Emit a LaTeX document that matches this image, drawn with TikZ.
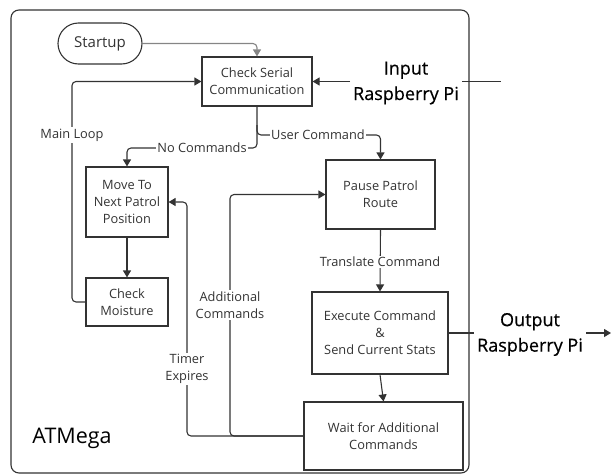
\documentclass[tikz,border=0pt]{standalone}
\usepackage{fontspec}
\setmainfont{Open Sans}
\newfontfamily\headfont[FakeBold=0.5]{Open Sans}
\usetikzlibrary{arrows.meta}
\definecolor{linec}{HTML}{333333}
\definecolor{txt}{HTML}{333333}
\definecolor{startc}{HTML}{858585}
\begin{document}
\begin{tikzpicture}[x=1pt,y=-1pt,
  stepbox/.style={draw=linec, line width=1.1pt, align=center, text=txt,
    font=\fontsize{12.8}{17}\selectfont, inner sep=0pt},
  lbl/.style={fill=white, text=txt, align=center, inner sep=1.5pt,
    font=\fontsize{12.8}{17}\selectfont},
  biglbl/.style={align=center, text=black, inner sep=0pt,
    font=\headfont\fontsize{18}{25.5}\selectfont},
  conn/.style={draw=linec, line width=1.1pt, rounded corners=4pt},
  arr/.style={conn, -{Triangle[length=7pt,width=8pt]}},
]
\useasboundingbox (0,0) rectangle (611,474);

% ATMega frame
\node[draw=linec, line width=1.1pt, rounded corners=8pt, minimum width=458pt,
  minimum height=463pt, inner sep=0pt] (atm) at (240,241.5) {};
\node[align=center, text=black, inner sep=0pt,
  font=\fontsize{21.5}{24}\selectfont] (atmlbl) at (72,438) {ATMega};

% process steps
\node[draw=linec, line width=1.1pt, rounded corners=20.5pt, minimum width=84pt,
  minimum height=41pt, inner sep=0pt, text=txt, font=\fontsize{15}{18}\selectfont]
  (start) at (100,43.5) {Startup};
\node[stepbox, minimum width=110pt, minimum height=49pt] (check) at (257,81.5)
  {Check Serial\\Communication};
\node[stepbox, minimum width=82pt, minimum height=70pt] (move) at (127,202)
  {Move To\\Next Patrol\\Position};
\node[stepbox, minimum width=82pt, minimum height=48pt] (moist) at (127,302)
  {Check\\Moisture};
\node[stepbox, minimum width=109pt, minimum height=69pt] (pause) at (380.5,194.5)
  {Pause Patrol\\Route};
\node[stepbox, minimum width=136pt, minimum height=82pt] (exec) at (380,333)
  {Execute Command\\\&\\Send Current Stats};
\node[stepbox, minimum width=159pt, minimum height=68pt] (wait) at (383.5,436)
  {Wait for Additional\\Commands};

% Raspberry Pi interfaces
\node[biglbl] (inlbl) at (406,83) {Input\\Raspberry Pi};
\node[biglbl] (outlbl) at (530,334.5) {Output\\Raspberry Pi};
\coordinate (inA) at (350,81.5);
\coordinate (inB) at (462,81.5);
\coordinate (inC) at (501,81.5);
\coordinate (outA) at (474,333);
\coordinate (outB) at (586,333);
\coordinate (outC) at (611,333);

% turning points
\coordinate (mlTurn) at (72,81.5);
\coordinate (ncTurn) at (127,148);
\coordinate (ucStart) at (257,125);
\coordinate (ucTurn) at (380.5,135);
\coordinate (teTurn) at (187,202);
\coordinate (acTurn) at (230,194.5);

% connectors
\draw[arr, draw=startc, -{Triangle[length=7pt,width=8pt]}, startc]
  (start.east) -| (check.north);
\draw[arr] (inA) -- (check.east);
\draw[conn] (inB) -- (inC);
\draw[arr] (moist.west) -| (mlTurn) -- (check.west);
\draw[arr] (check.south) |- (ncTurn) -- (move.north);
\draw[arr] (ucStart) |- (ucTurn) -- (pause.north);
\draw[arr] (move.south) -- (moist.north);
\draw[arr] (pause.south) -- (exec.north);
\draw[arr] (exec.south) -- (wait.north);
\draw[conn] (exec.east) -- (outA);
\draw[arr] (outB) -- (outC);
\draw[arr] (wait.west) -| (teTurn) -- (move.east);
\draw[arr] (wait.west) -| (acTurn) -- (pause.west);

% connector labels
\node[lbl] (mainloop) at (72,135) {Main Loop};
\node[lbl] (nocmd) at (202,148) {No Commands};
\node[lbl] (usercmd) at (318,135) {User Command};
\node[lbl] (transl) at (380,262) {Translate Command};
\node[lbl] (addcmd) at (230,305) {Additional\\Commands};
\node[lbl] (timer) at (187,369) {Timer\\Expires};
\end{tikzpicture}
\end{document}
